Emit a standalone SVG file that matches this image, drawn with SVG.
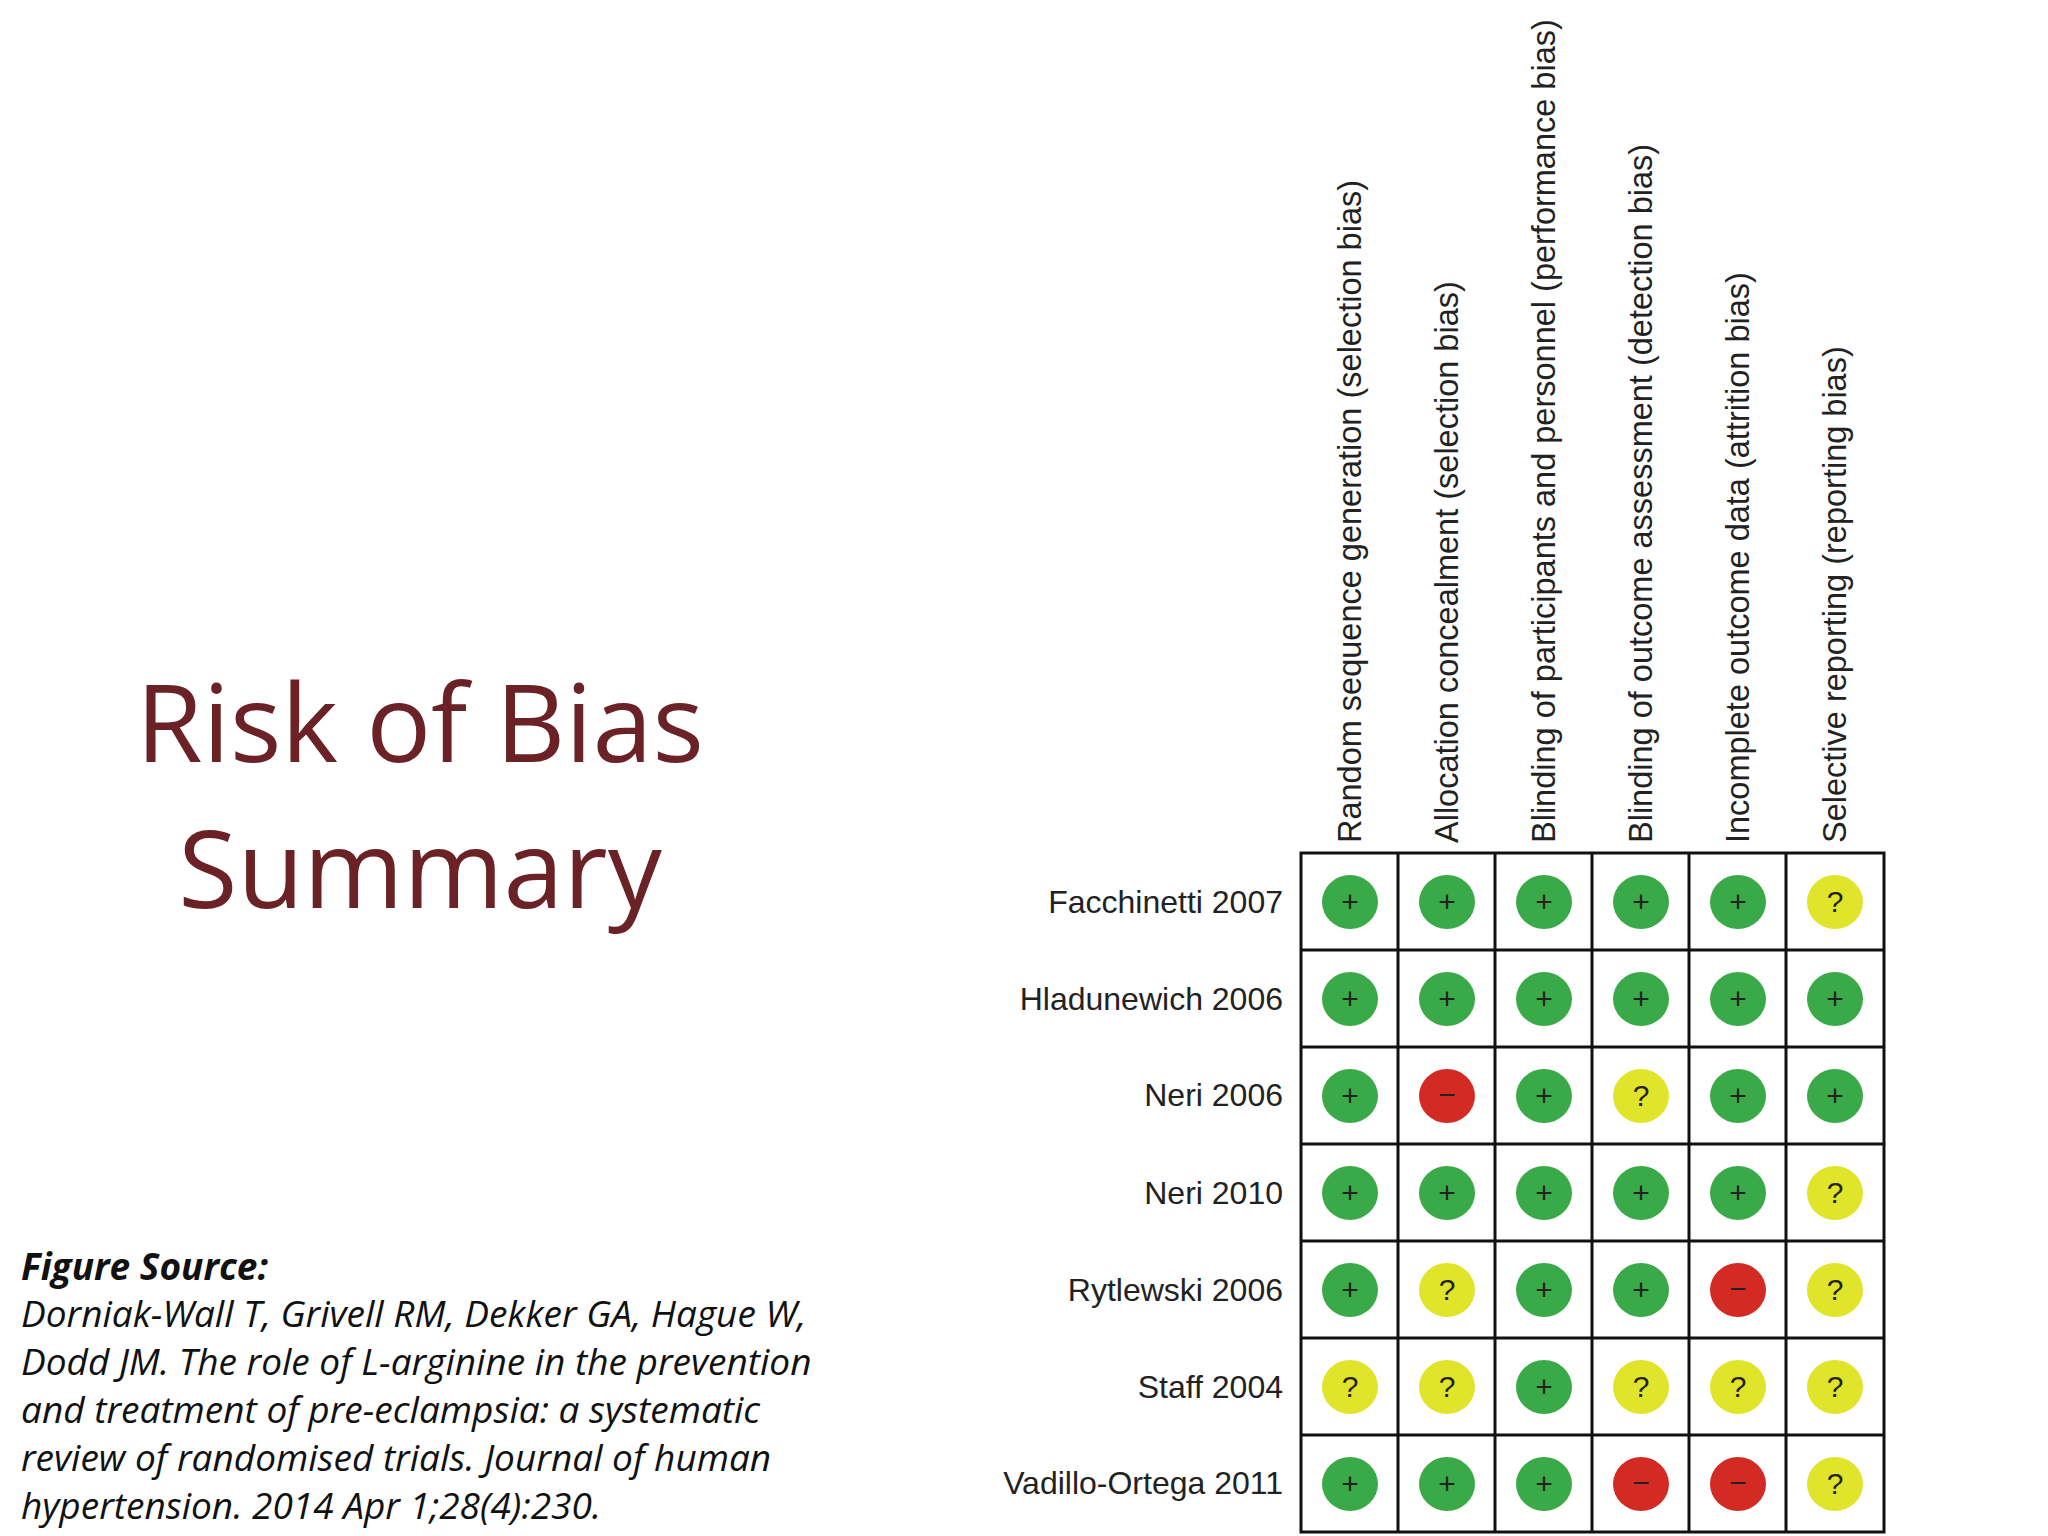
<svg xmlns="http://www.w3.org/2000/svg" width="2048" height="1536" viewBox="0 0 2048 1536">
<style>
.t{font-family:"Open Sans","Liberation Sans",sans-serif;fill:#6b2226;font-size:108px;text-anchor:middle}
.src{font-family:"Open Sans","Liberation Sans",sans-serif;font-style:italic;font-size:37px;fill:#111}
.rl{font-family:"Liberation Sans",Arial,sans-serif;font-size:32px;fill:#222;text-anchor:end}
.ch{font-family:"Liberation Sans",Arial,sans-serif;font-size:32.5px;fill:#222}
.g{fill:#3aaa48}.r{fill:#d42a24}.y{fill:#e0e42a}
.s{font-family:"Liberation Sans",Arial,sans-serif;font-size:30px;fill:#222;text-anchor:middle}
.grid{stroke:#111;stroke-width:3;fill:none}
</style>
<rect width="2048" height="1536" fill="#fff"/>
<g id="title"><text class="t" x="420" y="762">Risk of Bias</text><text class="t" x="420" y="908">Summary</text></g>
<g id="source">
<text class="src" x="21" y="1280" font-weight="bold">Figure Source:</text>
<text class="src" x="21" y="1327">Dorniak-Wall T, Grivell RM, Dekker GA, Hague W,</text>
<text class="src" x="21" y="1375">Dodd JM. The role of L-arginine in the prevention</text>
<text class="src" x="21" y="1423">and treatment of pre-eclampsia: a systematic</text>
<text class="src" x="21" y="1471">review of randomised trials. Journal of human</text>
<text class="src" x="21" y="1519">hypertension. 2014 Apr 1;28(4):230.</text>
</g>
<g id="headers">
<text class="ch" transform="translate(1361,843) rotate(-90)">Random sequence generation (selection bias)</text>
<text class="ch" transform="translate(1458,843) rotate(-90)">Allocation concealment (selection bias)</text>
<text class="ch" transform="translate(1555,843) rotate(-90)">Blinding of participants and personnel (performance bias)</text>
<text class="ch" transform="translate(1652,843) rotate(-90)">Blinding of outcome assessment (detection bias)</text>
<text class="ch" transform="translate(1749,843) rotate(-90)">Incomplete outcome data (attrition bias)</text>
<text class="ch" transform="translate(1846,843) rotate(-90)">Selective reporting (reporting bias)</text>
</g>
<g id="rows">
<text class="rl" x="1283" y="913">Facchinetti 2007</text>
<text class="rl" x="1283" y="1010">Hladunewich 2006</text>
<text class="rl" x="1283" y="1106">Neri 2006</text>
<text class="rl" x="1283" y="1204">Neri 2010</text>
<text class="rl" x="1283" y="1301">Rytlewski 2006</text>
<text class="rl" x="1283" y="1398">Staff 2004</text>
<text class="rl" x="1283" y="1494">Vadillo-Ortega 2011</text>
</g>
<g id="grid" class="grid">
<rect x="1301" y="853" width="583" height="679"/>
<path d="M1398 853V1532M1495 853V1532M1592 853V1532M1689 853V1532M1786 853V1532M1301 950H1884M1301 1047H1884M1301 1144H1884M1301 1241H1884M1301 1338H1884M1301 1435H1884"/>
</g>
<defs>
<g id="G"><ellipse class="g" rx="28" ry="27"/><text class="s" y="10">+</text></g>
<g id="R"><ellipse class="r" rx="28" ry="27"/><text class="s" y="9">−</text></g>
<g id="Y"><ellipse class="y" rx="28" ry="27"/><text class="s" y="10">?</text></g>
</defs>
<g id="cells">
<use href="#G" x="1350" y="902"/><use href="#G" x="1447" y="902"/><use href="#G" x="1544" y="902"/><use href="#G" x="1641" y="902"/><use href="#G" x="1738" y="902"/><use href="#Y" x="1835" y="902"/>
<use href="#G" x="1350" y="999"/><use href="#G" x="1447" y="999"/><use href="#G" x="1544" y="999"/><use href="#G" x="1641" y="999"/><use href="#G" x="1738" y="999"/><use href="#G" x="1835" y="999"/>
<use href="#G" x="1350" y="1096"/><use href="#R" x="1447" y="1096"/><use href="#G" x="1544" y="1096"/><use href="#Y" x="1641" y="1096"/><use href="#G" x="1738" y="1096"/><use href="#G" x="1835" y="1096"/>
<use href="#G" x="1350" y="1193"/><use href="#G" x="1447" y="1193"/><use href="#G" x="1544" y="1193"/><use href="#G" x="1641" y="1193"/><use href="#G" x="1738" y="1193"/><use href="#Y" x="1835" y="1193"/>
<use href="#G" x="1350" y="1290"/><use href="#Y" x="1447" y="1290"/><use href="#G" x="1544" y="1290"/><use href="#G" x="1641" y="1290"/><use href="#R" x="1738" y="1290"/><use href="#Y" x="1835" y="1290"/>
<use href="#Y" x="1350" y="1387"/><use href="#Y" x="1447" y="1387"/><use href="#G" x="1544" y="1387"/><use href="#Y" x="1641" y="1387"/><use href="#Y" x="1738" y="1387"/><use href="#Y" x="1835" y="1387"/>
<use href="#G" x="1350" y="1484"/><use href="#G" x="1447" y="1484"/><use href="#G" x="1544" y="1484"/><use href="#R" x="1641" y="1484"/><use href="#R" x="1738" y="1484"/><use href="#Y" x="1835" y="1484"/>
</g>
</svg>
